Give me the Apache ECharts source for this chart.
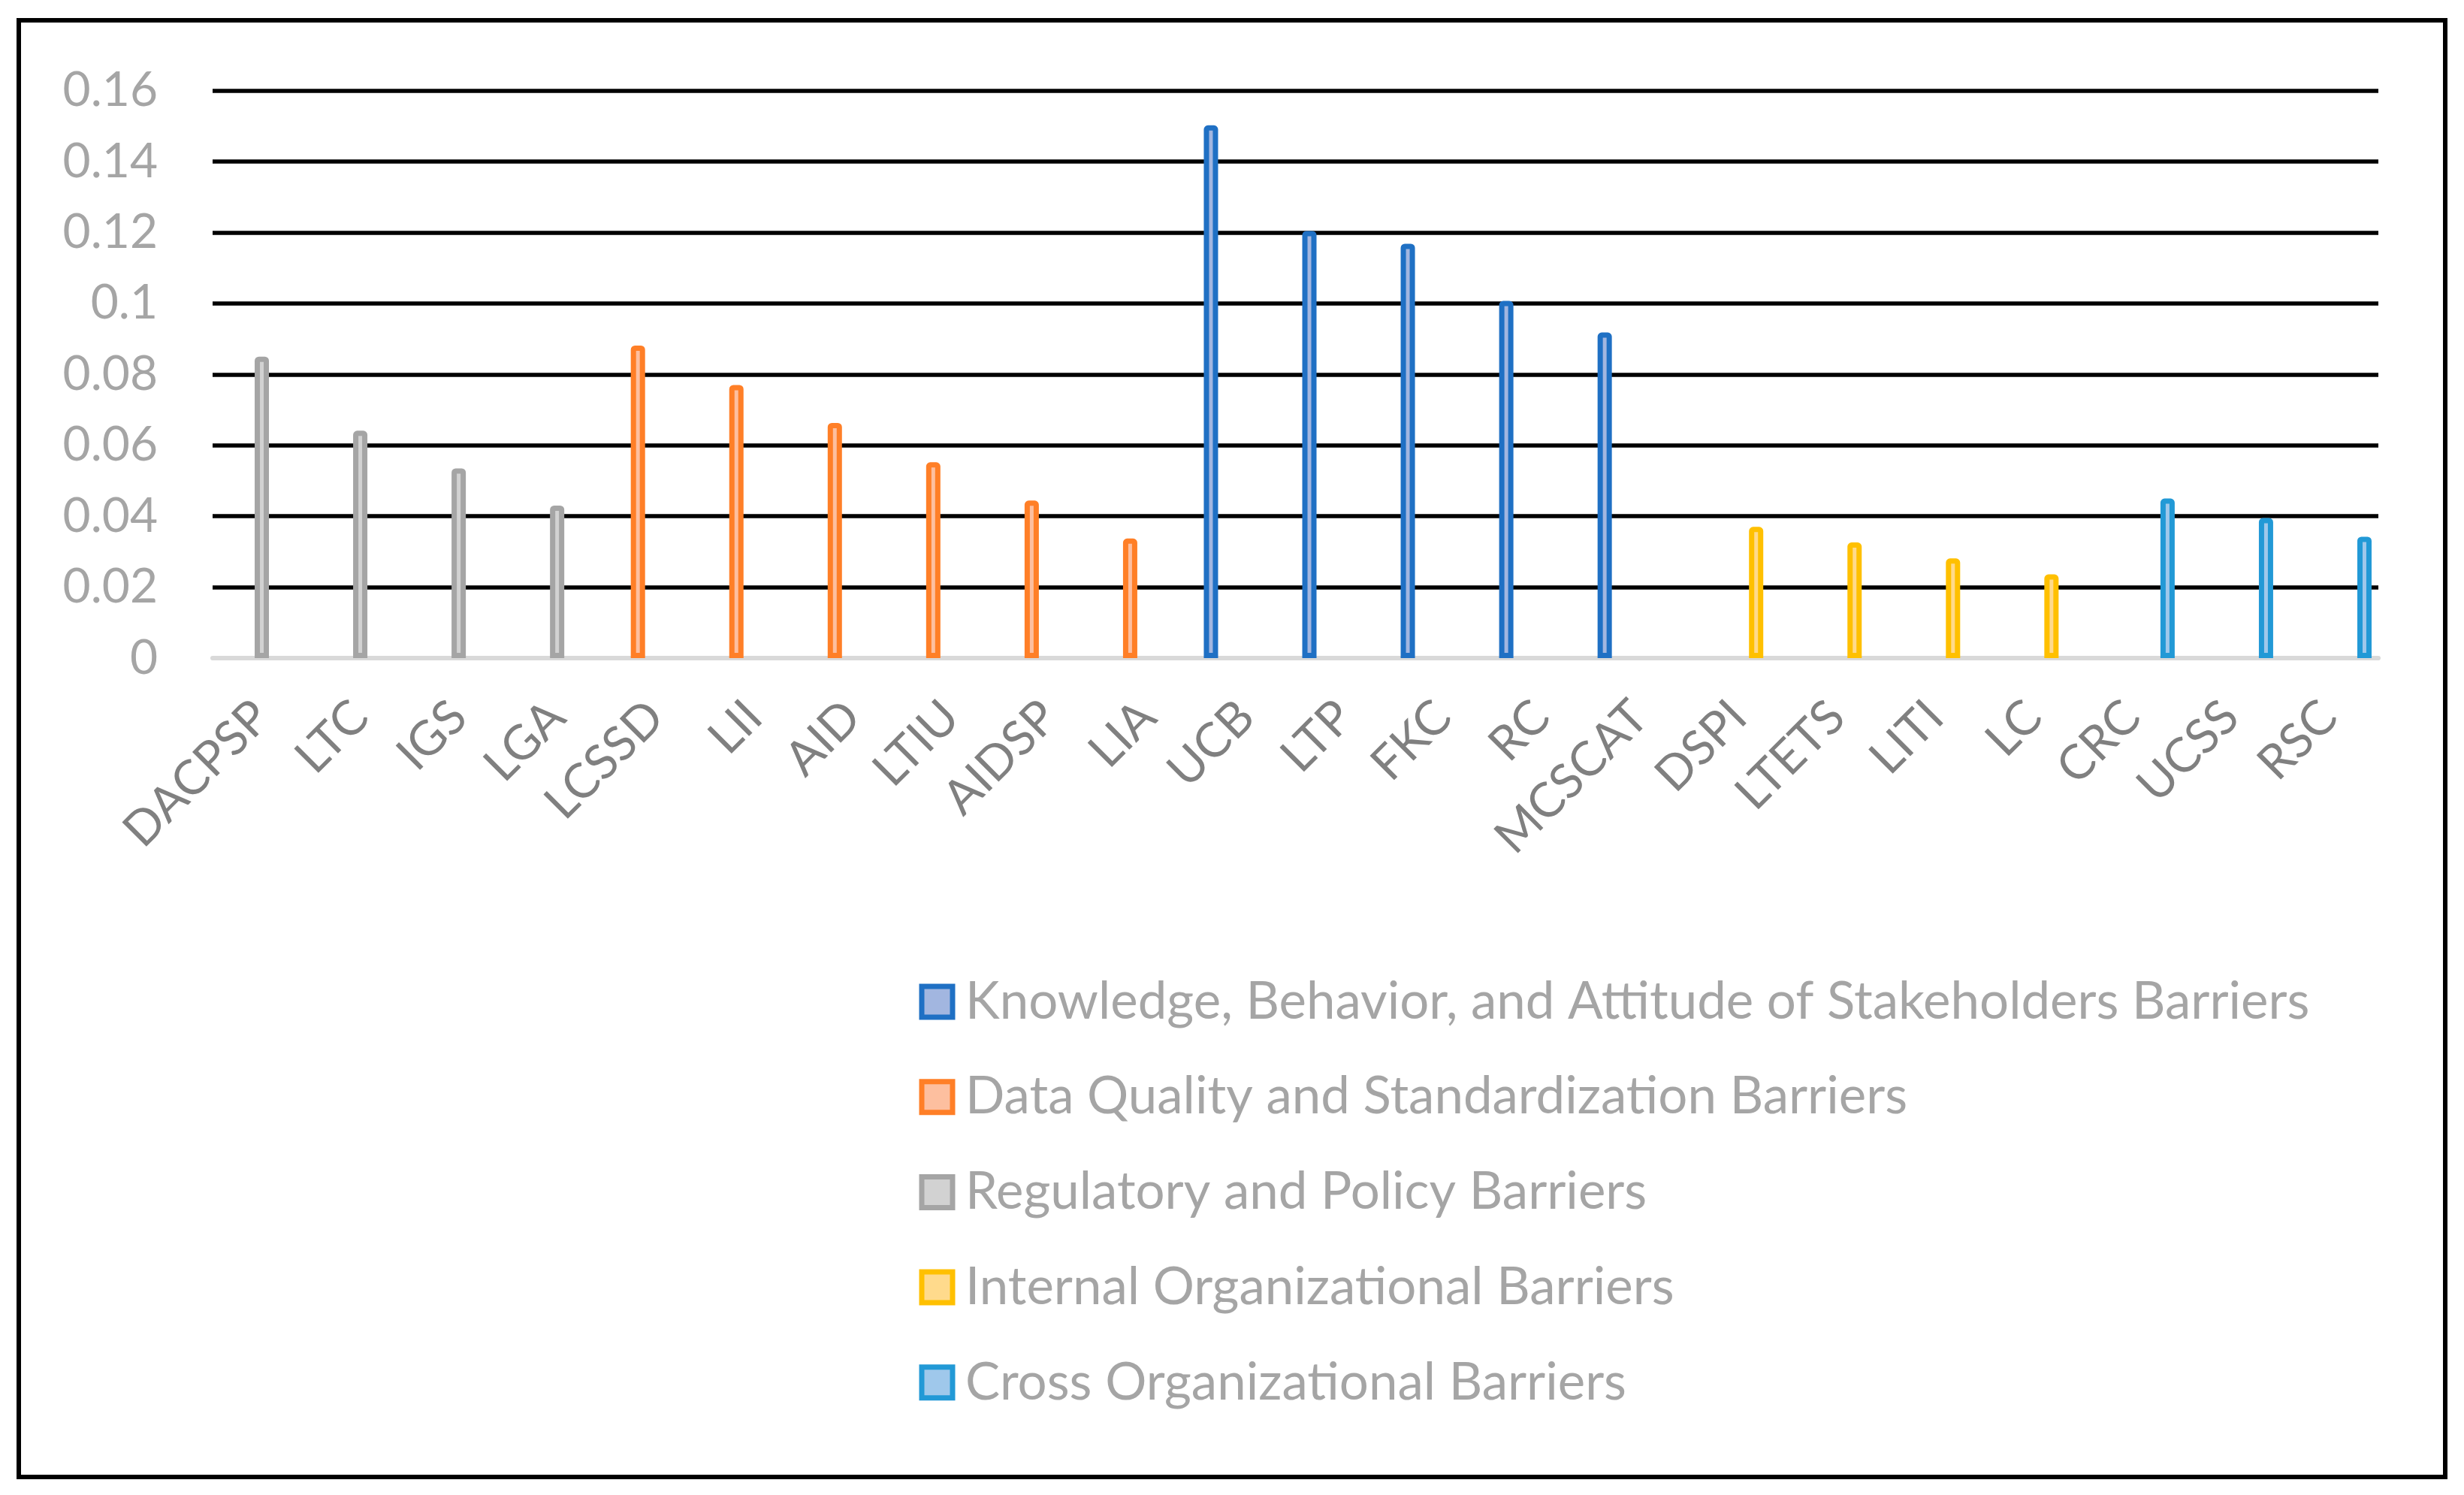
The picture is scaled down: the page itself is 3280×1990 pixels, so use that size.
<!DOCTYPE html>
<html>
<head>
<meta charset="utf-8">
<script src="https://cdn.jsdelivr.net/npm/echarts@6/dist/echarts.min.js"></script>
<style>
  html, body { margin: 0; padding: 0; background: #ffffff; }
  #chart { width: 3280px; height: 1990px; }
</style>
</head>
<body>
<div id="chart"></div>
<script>
const categories = ['DACPSP','LTC','IGS','LGA','LCSSD','LII','AID','LTIU','AIDSP','LIA','UCB','LTP','FKC','RC','MCSCAT','DSPI','LTETS','LITI','LC','CRC','UCSS','RSC'];
const yTicks = [0, 0.02, 0.04, 0.06, 0.08, 0.1, 0.12, 0.14, 0.16];

const seriesNames = [
  'Knowledge, Behavior, and Attitude of Stakeholders Barriers',
  'Data Quality and Standardization Barriers',
  'Regulatory and Policy Barriers',
  'Internal Organizational Barriers',
  'Cross Organizational Barriers'
];
const knowledgeValues = [null,null,null,null,null,null,null,null,null,null,0.1502,0.1204,0.1168,0.1007,0.0918,null,null,null,null,null,null,null];
const dataQualityValues = [null,null,null,null,0.0881,0.0770,0.0663,0.0552,0.0444,0.0337,null,null,null,null,null,null,null,null,null,null,null,null];
const regulatoryValues = [0.0850,0.0641,0.0535,0.0430,null,null,null,null,null,null,null,null,null,null,null,null,null,null,null,null,null,null];
const internalValues = [null,null,null,null,null,null,null,null,null,null,null,null,null,null,null,0.0370,0.0326,0.0281,0.0236,null,null,null];
const crossValues = [null,null,null,null,null,null,null,null,null,null,null,null,null,null,null,null,null,null,null,0.0450,0.0395,0.0342];

const borderColors = ['#1F70C4', '#FF7F27', '#A5A5A5', '#FFC000', '#2299D6'];
const fillColors = ['#A2B6E0', '#FDBF9F', '#D2D2D2', '#FFDA8C', '#9FC8EB'];
const allValues = [knowledgeValues, dataQualityValues, regulatoryValues, internalValues, crossValues];

const FONT = 'Lato';

const chart = echarts.init(document.getElementById('chart'), null, { renderer: 'canvas' });

const series = seriesNames.map((name, i) => ({
  name: name,
  type: 'bar',
  data: allValues[i],
  barWidth: 19,
  barGap: '23.7%',
  itemStyle: {
    color: fillColors[i],
    borderColor: borderColors[i],
    borderWidth: 7,
    borderRadius: [2, 2, 0, 0]
  },
  emphasis: { disabled: true }
}));

chart.setOption({
  animation: false,
  backgroundColor: '#ffffff',
  grid: { left: 283, right: 114, top: 120.5, bottom: 1114, containLabel: false },
  xAxis: {
    type: 'category',
    data: categories,
    axisTick: { show: false },
    axisLine: { show: true, lineStyle: { color: '#D9D9D9', width: 6 } },
    axisLabel: {
      interval: 0,
      rotate: 45,
      margin: 68,
      color: '#808080',
      fontFamily: FONT,
      fontSize: 64
    },
    splitLine: { show: false }
  },
  yAxis: {
    type: 'value',
    min: 0,
    max: 0.16,
    interval: 0.02,
    axisLine: { show: false },
    axisTick: { show: false },
    axisLabel: {
      margin: 73,
      color: '#A5A5A5',
      fontFamily: FONT,
      fontSize: 64,
      formatter: function (v) {
        const t = yTicks.find(x => Math.abs(x - v) < 1e-9);
        return String(t !== undefined ? t : +v.toFixed(2));
      }
    },
    splitLine: { show: true, lineStyle: { color: '#000000', width: 5.5 } }
  },
  legend: {
    orient: 'vertical',
    left: 1218.5,
    top: 1294,
    itemWidth: 41,
    itemHeight: 41,
    itemGap: 57.7,
    icon: 'rect',
    data: seriesNames.map((n, i) => ({
      name: n,
      itemStyle: { color: fillColors[i], borderColor: borderColors[i], borderWidth: 7 }
    })),
    textStyle: {
      color: '#A5A5A5',
      fontFamily: FONT,
      fontSize: 69,
      padding: [0, 0, 0, 12]
    }
  },
  graphic: [{
    type: 'rect',
    shape: { x: 25, y: 27, width: 3230, height: 1939 },
    style: { fill: 'none', stroke: '#000000', lineWidth: 6 },
    silent: true,
    z: 100
  }],
  series: series
});
</script>
</body>
</html>
